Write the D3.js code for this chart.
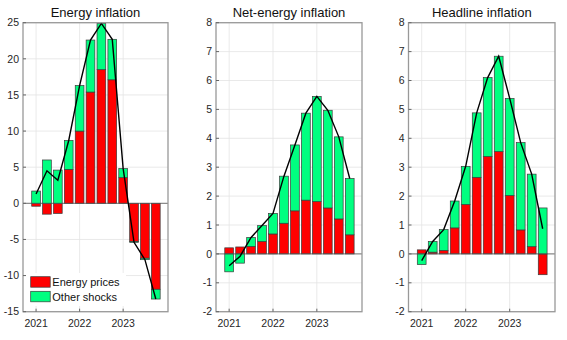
<!DOCTYPE html>
<html>
<head>
<meta charset="utf-8">
<script src="https://cdn.jsdelivr.net/npm/d3@7"></script>
<style>
  body { margin: 0; background: #fff; }
  svg { font-family: "Liberation Sans", Arial, sans-serif; }
  .tick-label { font-size: 10.5px; fill: #262626; }
  .title { font-size: 13px; fill: #111; }
</style>
</head>
<body>
<div class="chart"></div>
<script>
// quarters 2021Q1 .. 2023Q4
var quarters = ["2021Q1","2021Q2","2021Q3","2021Q4","2022Q1","2022Q2","2022Q3","2022Q4","2023Q1","2023Q2","2023Q3","2023Q4"];
var years = [2021, 2022, 2023];

// contributions (pp), energy prices vs other shocks
var energyEnergy = [-0.4, -1.5, -1.4, 4.7, 10.0, 15.4, 18.5, 17.1, 3.55, -5.3, -7.6, -11.9];
var energyOther  = [1.7, 6.0, 4.6, 4.0, 6.3, 7.2, 6.4, 5.6, 1.25, -0.1, -0.2, -1.35];

var netEnergy = [0.21, 0.24, 0.26, 0.43, 0.69, 1.06, 1.49, 1.86, 1.81, 1.59, 1.21, 0.66];
var netOther  = [-0.62, -0.32, 0.31, 0.55, 0.71, 1.63, 2.28, 3.01, 3.64, 3.38, 2.84, 1.95];

var headEnergy = [0.14, 0.06, 0.12, 0.90, 1.71, 2.65, 3.37, 3.54, 2.02, 0.83, 0.25, -0.72];
var headOther  = [-0.37, 0.37, 0.72, 0.93, 1.32, 2.23, 2.73, 3.30, 3.36, 3.02, 2.51, 1.59];

var energyTicks = [-15, -10, -5, 0, 5, 10, 15, 20, 25];
var smallTicks = [-2, -1, 0, 1, 2, 3, 4, 5, 6, 7, 8];

var legendLabels = ["Energy prices", "Other shocks"];
var colors = { energy: "#ff0000", other: "#00ff80" };

var svgWidth = 567;
var svgHeight = 340;

var svg = d3.select(".chart")
  .append("svg")
  .attr("width", svgWidth)
  .attr("height", svgHeight);

var panels = [
  { title: "Energy inflation", left: 23, right: 168, en: energyEnergy, ot: energyOther, ydom: [-15, 25], ticks: energyTicks, legend: true },
  { title: "Net-energy inflation", left: 216, right: 362, en: netEnergy, ot: netOther, ydom: [-2, 8], ticks: smallTicks },
  { title: "Headline inflation", left: 408.5, right: 555, en: headEnergy, ot: headOther, ydom: [-2, 8], ticks: smallTicks }
];

var plotTop = 22.7, plotBottom = 311.7;

function qTime(q) {
  return +q.slice(0, 4) + (+q.slice(5) - 1) * 0.25;
}

panels.forEach(function(p) {
  var g = svg.append("g");

  var x = d3.scaleLinear().domain([2020.7, 2024.03]).range([p.left, p.right]);
  var y = d3.scaleLinear().domain(p.ydom).range([plotBottom, plotTop]);

  var rows = quarters.map(function(q, i) {
    return { t: qTime(q), energy: p.en[i], other: p.ot[i] };
  });

  // grid
  g.append("g").selectAll("line")
    .data(p.ticks)
    .enter()
    .append("line")
    .attr("x1", p.left).attr("x2", p.right)
    .attr("y1", d => y(d)).attr("y2", d => y(d))
    .attr("stroke", "#e3e3e3").attr("stroke-width", 0.8);

  g.append("g").selectAll("line")
    .data(years)
    .enter()
    .append("line")
    .attr("x1", d => x(d)).attr("x2", d => x(d))
    .attr("y1", plotTop).attr("y2", plotBottom)
    .attr("stroke", "#e3e3e3").attr("stroke-width", 0.8);

  // stacked bars, positives up and negatives down
  var series = d3.stack()
    .keys(["energy", "other"])
    .offset(d3.stackOffsetDiverging)(rows);

  var barW = x(2021.2) - x(2021);

  g.append("g").selectAll("g")
    .data(series)
    .enter()
    .append("g")
    .attr("fill", d => colors[d.key])
    .selectAll("rect")
    .data(d => d)
    .enter()
    .append("rect")
    .attr("x", d => x(d.data.t) - barW / 2)
    .attr("width", barW)
    .attr("y", d => y(Math.max(d[0], d[1])))
    .attr("height", d => Math.abs(y(d[0]) - y(d[1])))
    .attr("stroke", "#3a3a3a")
    .attr("stroke-width", 0.7);

  // zero line
  g.append("line")
    .attr("x1", p.left).attr("x2", p.right)
    .attr("y1", y(0)).attr("y2", y(0))
    .attr("stroke", "#555").attr("stroke-width", 0.8);

  // total
  var line = d3.line()
    .x(d => x(d.t))
    .y(d => y(d.energy + d.other));

  g.append("path")
    .datum(rows)
    .attr("d", line)
    .attr("fill", "none")
    .attr("stroke", "#000")
    .attr("stroke-width", 1.4);

  // box
  g.append("rect")
    .attr("x", p.left).attr("y", plotTop)
    .attr("width", p.right - p.left).attr("height", plotBottom - plotTop)
    .attr("fill", "none")
    .attr("stroke", "#999")
    .attr("stroke-width", 1.3);

  // ticks
  g.append("g").selectAll("line")
    .data(p.ticks)
    .enter()
    .append("line")
    .attr("x1", p.left).attr("x2", p.left + 3)
    .attr("y1", d => y(d)).attr("y2", d => y(d))
    .attr("stroke", "#666");

  g.append("g").selectAll("line")
    .data(years)
    .enter()
    .append("line")
    .attr("x1", d => x(d)).attr("x2", d => x(d))
    .attr("y1", plotBottom).attr("y2", plotBottom - 3)
    .attr("stroke", "#666");

  g.append("g").selectAll("text")
    .data(p.ticks)
    .enter()
    .append("text")
    .attr("class", "tick-label")
    .attr("x", p.left - 4)
    .attr("y", d => y(d))
    .attr("dy", "0.35em")
    .attr("text-anchor", "end")
    .text(d => d);

  g.append("g").selectAll("text")
    .data(years)
    .enter()
    .append("text")
    .attr("class", "tick-label")
    .attr("x", d => x(d))
    .attr("y", 327)
    .attr("text-anchor", "middle")
    .text(d => d);

  g.append("text")
    .attr("class", "title")
    .attr("x", (p.left + p.right) / 2)
    .attr("y", 16.5)
    .attr("text-anchor", "middle")
    .text(p.title);

  if (p.legend) {
    var lg = g.append("g");
    lg.append("rect")
      .attr("x", p.left + 3).attr("y", 273)
      .attr("width", 100).attr("height", 33)
      .attr("fill", "#fff");
    legendLabels.forEach(function(lab, i) {
      var key = i === 0 ? "energy" : "other";
      lg.append("rect")
        .attr("x", 30.7).attr("y", 276.7 + i * 14.6)
        .attr("width", 19.5).attr("height", 10.5)
        .attr("fill", colors[key])
        .attr("stroke", "#3a3a3a").attr("stroke-width", 0.7);
      lg.append("text")
        .attr("x", 52.3).attr("y", 282.4 + i * 14.8)
        .attr("dy", "0.35em")
        .attr("font-size", "11px")
        .attr("fill", "#111")
        .text(lab);
    });
  }
});
</script>
</body>
</html>
